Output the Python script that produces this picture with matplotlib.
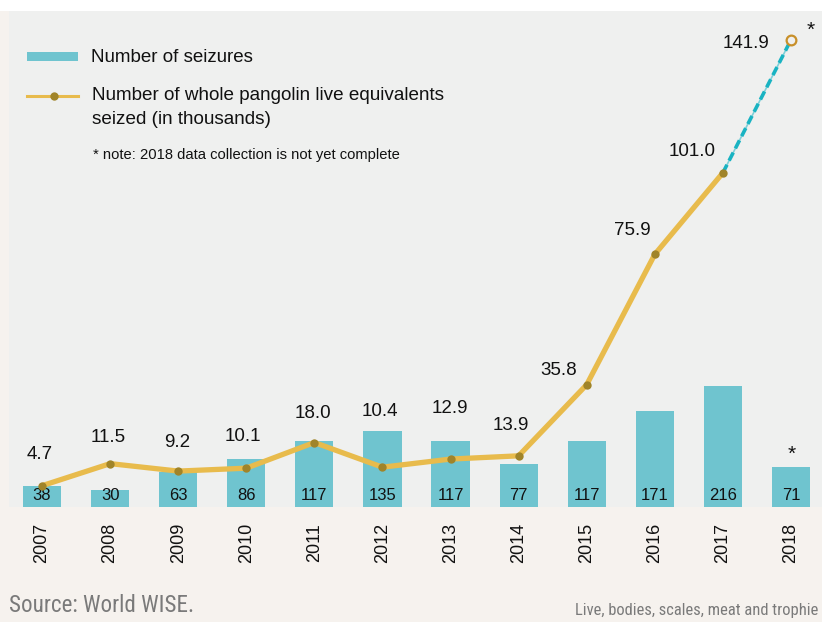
import matplotlib
matplotlib.use("Agg")
import matplotlib.pyplot as plt
from matplotlib.patches import Rectangle
from matplotlib.lines import Line2D
from matplotlib import font_manager

plt.rcParams['font.family'] = ['Liberation Sans', 'DejaVu Sans']

years = ['2007', '2008', '2009', '2010', '2011', '2012', '2013', '2014', '2015', '2016', '2017', '2018']
seizures = [38, 30, 63, 86, 117, 135, 117, 77, 117, 171, 216, 71]
pangolins = [4.7, 11.5, 9.2, 10.1, 18.0, 10.4, 12.9, 13.9, 35.8, 75.9, 101.0, 141.9]
pangolin_labels = ['4.7', '11.5', '9.2', '10.1', '18.0', '10.4', '12.9', '13.9', '35.8', '75.9', '101.0', '141.9']

# label offsets (pixels) relative to each line point -- layout only
label_dx = [-2, -2, -1, -3, -1, -3, -1, -8, -28, -22, -31, -45]
label_dy = [31, 26, 29, 32, 29, 56, 51, 30, 14, 24, 21, -4]

BAR_C = '#6fc4cf'
LINE_C = '#e8bb4c'
MARK_C = '#a08429'
BG = '#eff0ef'
FIG_BG = '#f6f2ee'

available = {f.name for f in font_manager.fontManager.ttflist}
cond_family = None
for cand in ['Roboto Condensed', 'Liberation Sans Narrow', 'Open Sans Condensed',
             'DejaVu Sans Condensed', 'Noto Sans Condensed', 'Arial Narrow']:
    if cand in available:
        cond_family = cand
        break

W, H = 822, 622
fig = plt.figure(figsize=(W / 100, H / 100), dpi=100, facecolor=FIG_BG)

fig.patches.append(Rectangle((0, 1 - 11 / H), 1, 11 / H, transform=fig.transFigure,
                             facecolor='white', edgecolor='none', zorder=0))

ax = fig.add_axes([9 / W, 1 - 507 / H, (W - 9) / W, (507 - 11) / H])
ax.set_facecolor(BG)
x = list(range(len(years)))
ax.bar(x, seizures, width=0.56, color=BAR_C, zorder=2)
ax.set_xlim(-0.485, 11.456)
ax.set_ylim(0, 885)
for s in ax.spines.values():
    s.set_visible(False)
ax.set_yticks([])
ax.set_xticks(x)
ax.set_xticklabels(years, rotation=90, fontsize=13, color='#111111')
ax.tick_params(axis='x', length=0, pad=11.5)
for xi, v in zip(x, seizures):
    ax.annotate(str(v), (xi, 0), xytext=(0, 12), textcoords='offset pixels',
                ha='center', va='center', fontsize=12, color='#111111', zorder=5)
ax.annotate('*', (x[-1], seizures[-1]), xytext=(1, 13), textcoords='offset pixels',
            ha='center', va='center', fontsize=15, color='#111111')

ax2 = ax.twinx()
ax2.set_ylim(-1.85, 150.8)
ax2.set_yticks([])
for s in ax2.spines.values():
    s.set_visible(False)
ax2.plot(x[:-1], pangolins[:-1], color=LINE_C, lw=3.8, zorder=3, solid_capstyle='round')
ax2.plot(x[-2:], pangolins[-2:], color='#7fd0d8', lw=1.2, zorder=3)
ax2.plot(x[-2:], pangolins[-2:], color='#19b3c2', lw=2.6, ls=(0, (2.5, 1.3)), zorder=3)
ax2.plot(x[:-1], pangolins[:-1], 'o', color=MARK_C, ms=6, zorder=4, mec='none')
ax2.plot([x[-1]], [pangolins[-1]], 'o', mfc=BG, mec='#c8902a', mew=1.6, ms=7, zorder=4)
for xi, v, lab, dx, dy in zip(x, pangolins, pangolin_labels, label_dx, label_dy):
    ax2.annotate(lab, (xi, v), xytext=(dx, dy), textcoords='offset pixels',
                 ha='center', va='center', fontsize=13.5, color='#111111')
ax2.annotate('*', (x[-1], pangolins[-1]), xytext=(20, 10), textcoords='offset pixels',
             ha='center', va='center', fontsize=15, color='#111111')

ov = fig.add_axes([0, 0, 1, 1], facecolor='none')
ov.set_xlim(0, W)
ov.set_ylim(H, 0)
ov.axis('off')
ov.add_patch(Rectangle((27, 52), 51, 9, facecolor=BAR_C, edgecolor='none'))
ov.text(91, 57, 'Number of seizures', fontsize=13.5, va='center', ha='left', color='#111111')
ov.add_line(Line2D([27, 78], [96, 96], color=LINE_C, lw=2.2))
ov.plot([54], [96], 'o', color=MARK_C, ms=6, mec='none')
ov.text(92, 96, 'Number of whole pangolin live equivalents', fontsize=13.6, va='center',
        ha='left', color='#111111')
ov.text(92, 120, 'seized (in thousands)', fontsize=13.6, va='center', ha='left', color='#111111')
ov.text(93, 155, '* note: 2018 data collection is not yet complete', fontsize=10.6,
        va='center', ha='left', color='#111111')

if cond_family is not None:
    src_kw = dict(family=[cond_family, 'DejaVu Sans'])
    src_size, foot_size = 16.6, 11.9
else:
    src_kw = dict(family=['Liberation Sans', 'DejaVu Sans'])
    src_size, foot_size = 15, 11.2
ov.text(9, 606, 'Source: World WISE.', fontsize=src_size, va='center', ha='left',
        color='#7a7a7a', **src_kw)
ov.text(575, 611, 'Live, bodies, scales, meat and trophie', fontsize=foot_size, va='center',
        ha='left', color='#7a7a7a', **src_kw)

fig.savefig('out.png', dpi=100, facecolor=FIG_BG)
